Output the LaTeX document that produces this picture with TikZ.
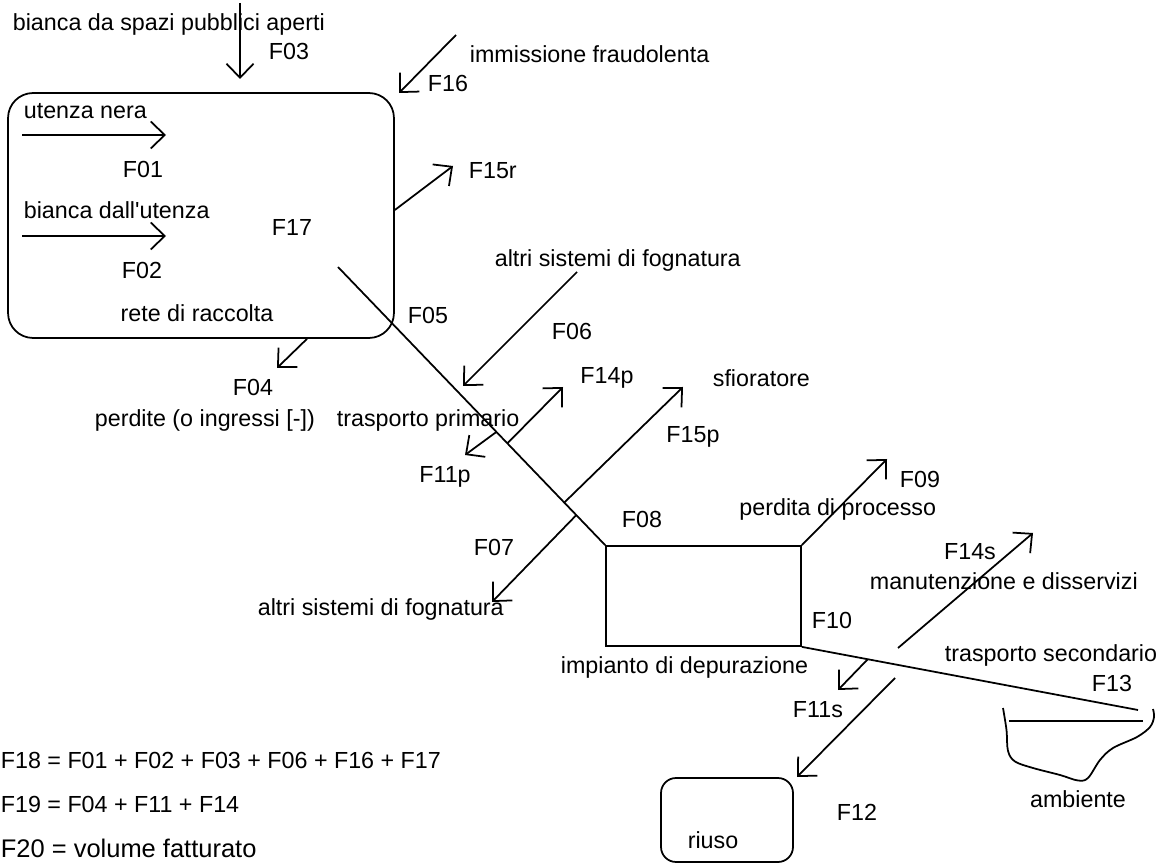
\documentclass[tikz,border=0pt]{standalone}
\usepackage{fontspec}
\setmainfont{Liberation Sans}
\newfontfamily\plainsans{Liberation Sans}
\usetikzlibrary{arrows.meta,calc}
\begin{document}
\begin{tikzpicture}[x=0.02cm,y=-0.02cm,line width=1pt,
  lbl/.style={inner sep=0pt,font=\plainsans\fontsize{13.25pt}{16pt}\selectfont,text height=9.5pt,text depth=2.8pt},
  biglbl/.style={inner sep=0pt,font=\plainsans\fontsize{14.5pt}{17pt}\selectfont,text height=10.4pt,text depth=3pt},
  flow/.style={-{Straight Barb[length=2.8mm,width=5.4mm]}},
  boxnode/.style={draw,inner sep=0pt}
]
\useasboundingbox (0,0) rectangle (1160,864);

% boxes
\node[boxnode,rounded corners=0.5cm,minimum width=7.72cm,minimum height=4.9cm] (rete) at (201,215.5) {};
\node[boxnode,minimum width=3.9cm,minimum height=2cm] (imp) at (703.5,596) {};
\node[boxnode,rounded corners=0.3cm,minimum width=2.64cm,minimum height=1.68cm] (riuso) at (727,820) {};

% free end coordinates
\coordinate (f03s) at (240,3);   \coordinate (f03e) at (240,79);
\coordinate (f01s) at (22,135);  \coordinate (f01e) at (166,135);
\coordinate (f02s) at (22,236);  \coordinate (f02e) at (166,236);
\coordinate (f16s) at (456,35);  \coordinate (f16e) at (399,93);
\coordinate (f15re) at (453,166);
\coordinate (f04e) at (277,368);
\coordinate (p1) at (338,267);
\coordinate (f06s) at (577,272); \coordinate (f06e) at (463,386);
\coordinate (f11pe) at (465,455);
\coordinate (f14pe) at (563,387);
\coordinate (f15pe) at (683,387);
\coordinate (f07e) at (492,602);
\coordinate (f09e) at (887,459);
\coordinate (amb) at (1138,710);
\coordinate (f11se) at (838,690);
\coordinate (f14ss) at (898,648); \coordinate (f14se) at (1033,533);
\coordinate (f12s) at (895,678);  \coordinate (f12e) at (797,777);

% connectors
\draw[flow] (f03s) -- (f03e);
\draw[flow] (f01s) -- (f01e);
\draw[flow] (f02s) -- (f02e);
\draw[flow] (f16s) -- (f16e);
\draw[flow] ($(rete.east)+(0,-5.5)$) -- (f15re);
\draw[flow] ($(rete.south)+(106,0)$) -- (f04e);
\draw (p1) -- (imp.north west);
\draw[flow] (f06s) -- (f06e);
\draw[flow] ($(p1)!0.593!(imp.north west)$) -- (f11pe);
\draw[flow] ($(p1)!0.634!(imp.north west)$) -- (f14pe);
\draw[flow] ($(p1)!0.847!(imp.north west)$) -- (f15pe);
\draw[flow] ($(p1)!0.892!(imp.north west)$) -- (f07e);
\draw[flow] (imp.north east) -- (f09e);
\draw (imp.south east) -- (amb);
\draw[flow] ($(imp.south east)!0.196!(amb)$) -- (f11se);
\draw[flow] (f14ss) -- (f14se);
\draw[flow] (f12s) -- (f12e);

% ambiente
\draw[line join=round] plot[smooth,tension=0.55] coordinates {(1003,708) (1006.5,730) (1008,751) (1015,761.5) (1033,768) (1060,775) (1078,780.5) (1088,778) (1100,760) (1113,748) (1137,737) (1150,727) (1154,717) (1153,709)};
\draw (1009,721) -- (1143,721);

% labels
\node[lbl,anchor=west] (t1) at (12,25) {bianca da spazi pubblici aperti};
\node[lbl] (l03) at (289,54) {F03};
\node[lbl,anchor=west] (t2) at (469,57) {immissione fraudolenta};
\node[lbl,anchor=west] (l16) at (427,86) {F16};
\node[lbl,anchor=west] (t3) at (23,113) {utenza nera};
\node[lbl] (l01) at (143,172) {F01};
\node[lbl,anchor=west] (l15r) at (468,173) {F15r};
\node[lbl,anchor=west] (t4) at (23,213) {bianca dall'utenza};
\node[lbl] (l17) at (292,230) {F17};
\node[lbl] (l02) at (142,273) {F02};
\node[lbl,anchor=west] (t5) at (494,261) {altri sistemi di fognatura};
\node[lbl] (t6) at (197,316) {rete di raccolta};
\node[lbl] (l05) at (428,318) {F05};
\node[lbl] (l06) at (572,334) {F06};
\node[lbl] (l04) at (253,390) {F04};
\node[lbl,anchor=west] (t7) at (94,421) {perdite (o ingressi [-])};
\node[lbl,anchor=west] (t8) at (336,421) {trasporto primario};
\node[lbl] (l14p) at (607,378) {F14p};
\node[lbl,anchor=west] (t9) at (712,381) {sfioratore};
\node[lbl] (l15p) at (693,437) {F15p};
\node[lbl] (l11p) at (445,477) {F11p};
\node[lbl] (l09) at (920,482) {F09};
\node[lbl,anchor=east] (t10) at (937,510) {perdita di processo};
\node[lbl] (l08) at (642,522) {F08};
\node[lbl] (l07) at (494,550) {F07};
\node[lbl] (l14s) at (970,554) {F14s};
\node[lbl,anchor=west] (t11) at (869,584) {manutenzione e disservizi};
\node[lbl,anchor=west] (t12) at (257,610) {altri sistemi di fognatura};
\node[lbl] (l10) at (832,623) {F10};
\node[lbl,anchor=west] (t13) at (944,656) {trasporto secondario};
\node[lbl,anchor=west] (t14) at (560,668) {impianto di depurazione};
\node[lbl] (l13) at (1112,686) {F13};
\node[lbl] (l11s) at (818,712) {F11s};
\node[lbl] (t15) at (1078,802) {ambiente};
\node[lbl] (l12) at (857,815) {F12};
\node[lbl] (t16) at (713,843) {riuso};
\node[lbl,anchor=west] (e18) at (0,763) {F18 = F01 + F02 + F03 + F06 + F16 + F17};
\node[lbl,anchor=west] (e19) at (0,807) {F19 = F04 + F11 + F14};
\node[biglbl,anchor=west] (e20) at (0,851) {F20 = volume fatturato};
\end{tikzpicture}
\end{document}
